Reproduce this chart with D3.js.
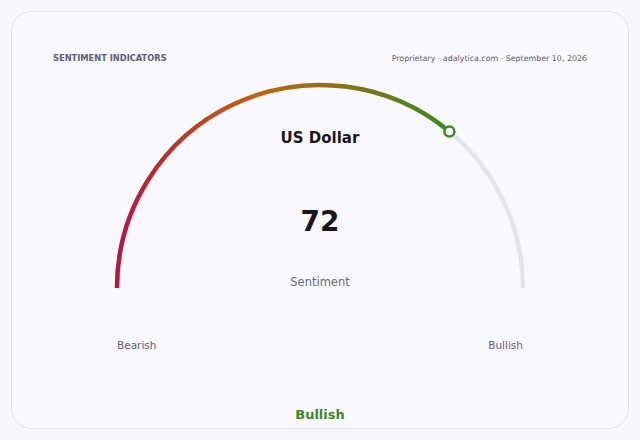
<!DOCTYPE html>
<html>
<head>
<meta charset="utf-8">
<script src="https://cdn.jsdelivr.net/npm/d3@7"></script>
<style>
  html, body { margin: 0; padding: 0; background: #f7f7fb; }
  svg { display: block; font-family: "DejaVu Sans", sans-serif; }
</style>
</head>
<body>
<div id="chart"></div>
<script>
// gauge data
const asset = "US Dollar";
const value = 72;
const domain = [0, 100];
const endLabels = ["Bearish", "Bullish"];
const valueLabel = "Sentiment";
const verdict = "Bullish";
const gradientStops = [
  {offset: 0, color: "#b5173f"},
  {offset: 0.42, color: "#c2620f"},
  {offset: 1, color: "#3a8a1e"}
];

const width = 640, height = 440;
const cx = 320, cy = 288, radius = 203;

const svg = d3.select("#chart").append("svg")
  .attr("width", width)
  .attr("height", height);

// card
svg.append("rect")
  .attr("x", 11.5).attr("y", 11.5)
  .attr("width", 617).attr("height", 417)
  .attr("rx", 20)
  .attr("fill", "#f9f9fd")
  .attr("stroke", "#e0e0ea");

svg.append("text")
  .attr("x", 53).attr("y", 61)
  .attr("font-size", 8.3)
  .attr("font-weight", "bold")
  .attr("fill", "#5f6073")
  .text("SENTIMENT INDICATORS");

svg.append("text")
  .attr("x", 587).attr("y", 61)
  .attr("text-anchor", "end")
  .attr("font-size", 7.9)
  .attr("fill", "#5a5b6a")
  .text("Proprietary · adalytica.com · September 10, 2026");

// angle scale: 0 -> left (-90deg), 100 -> right (+90deg)
const angle = d3.scaleLinear().domain(domain).range([-Math.PI / 2, Math.PI / 2]);
const pt = v => [cx + radius * Math.sin(angle(v)), cy - radius * Math.cos(angle(v))];

const arc = d3.arc()
  .innerRadius(radius)
  .outerRadius(radius);

const g = svg.append("g").attr("transform", `translate(${cx},${cy})`);

// track
g.append("path")
  .attr("d", arc({startAngle: angle(value), endAngle: angle(domain[1])}))
  .attr("fill", "none")
  .attr("stroke", "#e4e4ea")
  .attr("stroke-width", 4.5)
  .attr("stroke-linecap", "round");

// gradient for value arc
const [x0] = pt(domain[0]);
const [x1] = pt(value);
const grad = svg.append("defs").append("linearGradient")
  .attr("id", "valGrad")
  .attr("gradientUnits", "userSpaceOnUse")
  .attr("x1", x0 - cx).attr("y1", 0)
  .attr("x2", x1 - cx).attr("y2", 0);
grad.selectAll("stop").data(gradientStops).enter().append("stop")
  .attr("offset", d => d.offset)
  .attr("stop-color", d => d.color);

g.append("path")
  .attr("d", arc({startAngle: angle(domain[0]), endAngle: angle(value)}))
  .attr("fill", "none")
  .attr("stroke", "url(#valGrad)")
  .attr("stroke-width", 4.5)
  .attr("stroke-linecap", "round");

// marker
const [mx, my] = pt(value);
svg.append("circle")
  .attr("cx", mx).attr("cy", my)
  .attr("r", 5)
  .attr("fill", "#ffffff")
  .attr("stroke", "#3a8a1e")
  .attr("stroke-width", 2.5);

// center texts
svg.append("text")
  .attr("x", cx).attr("y", 143)
  .attr("text-anchor", "middle")
  .attr("font-size", 15)
  .attr("font-weight", "bold")
  .attr("fill", "#17171c")
  .text(asset);

svg.append("text")
  .attr("x", cx).attr("y", 231)
  .attr("text-anchor", "middle")
  .attr("font-size", 28)
  .attr("font-weight", "bold")
  .attr("fill", "#17171c")
  .text(value);

svg.append("text")
  .attr("x", cx).attr("y", 286)
  .attr("text-anchor", "middle")
  .attr("font-size", 11.5)
  .attr("fill", "#6a6a78")
  .text(valueLabel);

// end labels
svg.append("text")
  .attr("x", pt(domain[0])[0]).attr("y", 349)
  .attr("font-size", 10.5)
  .attr("fill", "#5f6070")
  .text(endLabels[0]);

svg.append("text")
  .attr("x", pt(domain[1])[0]).attr("y", 349)
  .attr("text-anchor", "end")
  .attr("font-size", 10.5)
  .attr("fill", "#5f6070")
  .text(endLabels[1]);

svg.append("text")
  .attr("x", cx).attr("y", 419)
  .attr("text-anchor", "middle")
  .attr("font-size", 13)
  .attr("font-weight", "bold")
  .attr("fill", "#3d8a1f")
  .text(verdict);
</script>
</body>
</html>
